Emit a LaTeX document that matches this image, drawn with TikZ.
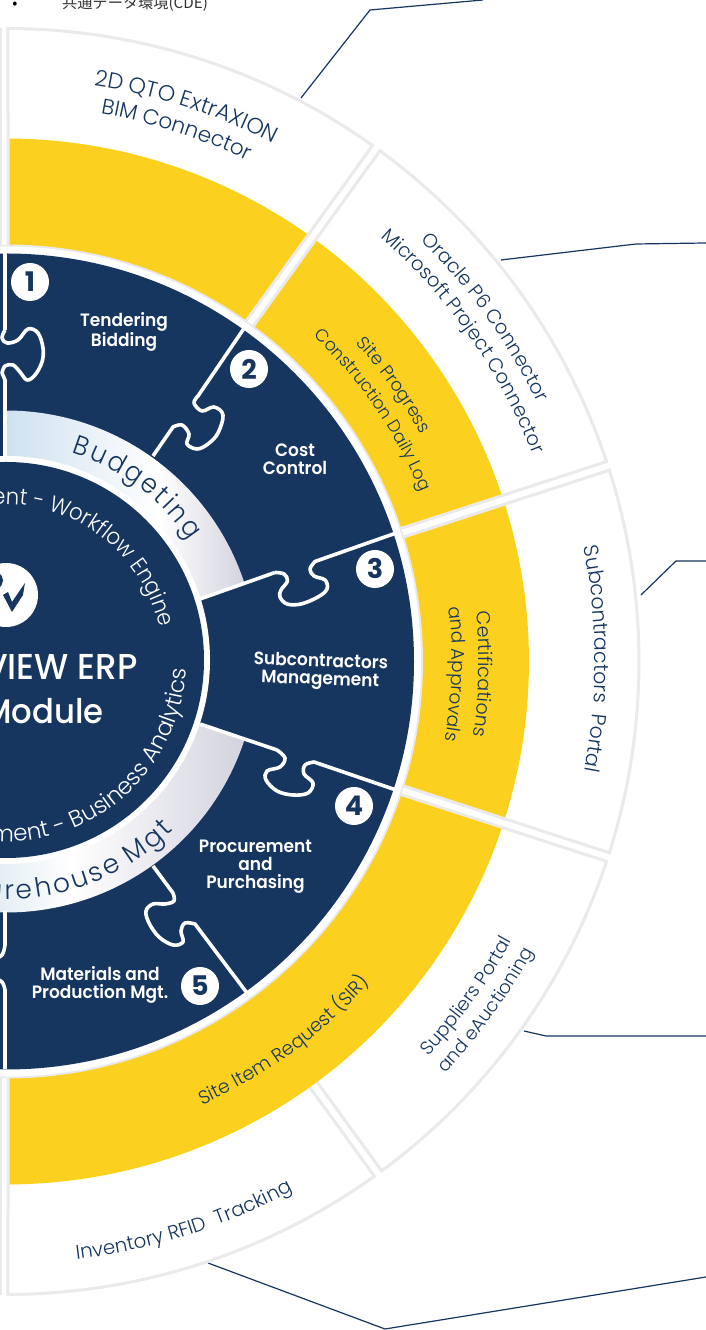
\documentclass[tikz,border=0pt]{standalone}
\usepackage{fontspec}
\setmainfont{Poppins}
\newfontfamily\lt{Poppins Light}
\newfontfamily\ltn{Poppins Light}[FakeStretch=0.93]
\newfontfamily\ltw{Poppins Light}[FakeStretch=0.93,LetterSpace=10]
\newfontfamily\ltx{Poppins Light}[LetterSpace=10]
\newfontfamily\md{Poppins Medium}[FakeStretch=0.95]
\newfontfamily\sbd{Poppins SemiBold}[FakeStretch=0.95]
\newfontfamily\bd{Poppins Bold}
\newfontfamily\cjk{Noto Sans CJK JP}
\definecolor{navy}{HTML}{163660}
\definecolor{gold}{HTML}{FCD01F}
\definecolor{rim}{HTML}{EAEAEC}
\definecolor{tintA}{HTML}{CFE1F0}
\definecolor{tintB}{HTML}{D3D3DF}
\definecolor{tintC}{HTML}{E0ECF1}
\pgfdeclarehorizontalshading{bandup}{100bp}{color(0bp)=(tintA); color(25bp)=(tintA); color(57bp)=(white); color(75bp)=(tintB); color(100bp)=(tintB)}
\pgfdeclarehorizontalshading{banddown}{100bp}{color(0bp)=(tintC); color(25bp)=(tintC); color(41bp)=(white); color(75bp)=(tintB); color(100bp)=(tintB)}
\tikzset{
  px/.style={y=-1pt,yshift=1330pt},
  pol/.style={shift={(6,668.5)}},
  outersector/.style={fill=white,draw=rim,line width=3pt,line join=miter},
  goldsector/.style={fill=gold},
  seam/.style={draw=white,line width=3.6pt,line cap=butt,line join=round},
  leader/.style={draw=navy,line width=1.2pt},
  numdot/.style={circle,fill=white,minimum size=38pt,inner sep=0pt,text=navy,font=\bd\fontsize{27}{27}\selectfont},
  lab/.style={text=white,align=center,font=\sbd\fontsize{17.9}{18}\selectfont,inner sep=0pt},
}
\newcommand\sect[7]{\path[#1] (#4:#2) arc[start angle=#4,end angle=#5,radius=#2] -- (#7:#3) arc[start angle=#7,end angle=#6,radius=#3] -- cycle;}
\newcommand\navyf[1]{\lt\fontsize{#1}{#1}\selectfont\color{navy}}
\newcommand\navyw[1]{\ltw\fontsize{#1}{#1}\selectfont\color{navy}}
\newcommand\navyx[1]{\ltx\fontsize{#1}{#1}\selectfont\color{navy}}
\newcommand\whitef[1]{\lt\fontsize{#1}{#1}\selectfont\color{white}}
\newcommand\whiten[1]{\ltn\fontsize{#1}{#1}\selectfont\color{white}}
\newlength\acW \newlength\acP \newlength\acC
\makeatletter
% radius, angle, direction (+1 clockwise, -1 anticlockwise), align (0 centre, 1 end), font, text
\newcommand\arcline[6]{%
  \pgfinterruptpicture\sbox0{#5#6}\global\acW=\wd0 \endpgfinterruptpicture
  \ifnum#4=0 \pgfmathsetmacro\acS{-0.5*\acW}\else \pgfmathsetmacro\acS{-1*\acW}\fi
  \gdef\acPre{}%
  \@tfor\acCh:=#6\do{%
    \expandafter\g@addto@macro\expandafter\acPre\expandafter{\acCh}%
    \pgfinterruptpicture
      \sbox0{#5\acPre}\global\acP=\wd0
      \sbox0{#5\acCh}\global\acC=\wd0
    \endpgfinterruptpicture
    \pgfmathsetmacro\acTh{#2-#3*(\acS+\acP-0.5*\acC)/#1*57.29578}%
    \pgfmathsetmacro\acRo{\acTh-#3*90}%
    \node[anchor=base,inner sep=0pt,rotate=\acRo] at (\acTh:#1) {#5\acCh};%
  }%
}
\makeatother
\begin{document}
\begin{tikzpicture}[x=1pt,y=1pt]
\useasboundingbox (0,0) rectangle (706,1330);
\clip (0,0) rectangle (706,1330);
\fill[white] (0,0) rectangle (706,1330);
% stray caption at the top
\begin{scope}[px]
\node[anchor=base,inner sep=0pt] (bul) at (15,8.5) {\cjk\fontsize{15}{15}\selectfont •};
\node[anchor=base west,inner sep=0pt,text=black!80] (cde) at (62,8.5) {\cjk\fontsize{15.2}{15}\selectfont 共通データ環境(CDE)};
\draw[rim,line width=2pt] (0.5,28) -- (0.5,245);
\draw[rim,line width=2pt] (0.5,1077) -- (0.5,1295);
\end{scope}
% leader lines
\begin{scope}[px]
\coordinate (l1a) at (301,98); \coordinate (l1b) at (370,10); \coordinate (l1c) at (483,0);
\coordinate (l2a) at (501,260); \coordinate (l2b) at (636,244); \coordinate (l2c) at (706,243);
\coordinate (l3a) at (641,595); \coordinate (l3b) at (676,561); \coordinate (l3c) at (706,561);
\coordinate (l4a) at (524,1031); \coordinate (l4b) at (546,1036); \coordinate (l4c) at (706,1036);
\coordinate (l5a) at (208,1263); \coordinate (l5b) at (385,1329); \coordinate (l5c) at (706,1277);
\draw[leader] (l1a)--(l1b)--(l1c);
\draw[leader] (l2a)--(l2b)--(l2c);
\draw[leader] (l3a)--(l3b)--(l3c);
\draw[leader] (l4a)--(l4b)--(l4c);
\draw[leader] (l5a)--(l5b)--(l5c);
\end{scope}
\begin{scope}[pol]
% outer white sectors
\sect{outersector}{633}{416}{89.82}{54.61}{89.72}{54.82}
\sect{outersector}{633}{416}{53.79}{18.41}{53.58}{18.62}
\sect{outersector}{633}{416}{17.59}{-17.59}{17.38}{-17.38}
\sect{outersector}{633}{416}{-18.41}{-53.59}{-18.62}{-53.38}
\sect{outersector}{633}{416}{-54.41}{-89.82}{-54.62}{-89.72}
% gold ring
\sect{goldsector}{523}{416}{89.6}{54.86}{89.5}{55.03}
\sect{goldsector}{523}{416}{53.54}{18.66}{53.37}{18.83}
\sect{goldsector}{523}{416}{17.34}{-17.34}{17.17}{-17.17}
\sect{goldsector}{523}{416}{-18.66}{-89.6}{-18.83}{-89.5}
% navy disc
\fill[rim] (0,0) circle[radius=417];
\fill[white] (0,0) circle[radius=415];
\fill[navy] (0,0) circle[radius=408];
% gradient bands
\path[shading=bandup] (89.7:251) arc[start angle=89.7,end angle=18,radius=251] -- (18:198) arc[start angle=18,end angle=89.7,radius=198] -- cycle;
\path[shading=banddown] (-94:251) arc[start angle=-94,end angle=-18,radius=251] -- (-18:198) arc[start angle=-18,end angle=-94,radius=198] -- cycle;
% hub
\fill[white] (0,1.5) circle[radius=204];
\fill[navy] (0,1.5) circle[radius=198];
\end{scope}
% jigsaw seams
\begin{scope}[px]
\draw[seam] (5,253) -- (5,330) plot[smooth,tension=0.6] coordinates {(5,330) (2,338) (7,343) (18,340) (28,329) (38,333) (43,348) (42,362) (35,375) (27,380) (20,372) (13,365) (5,366) (2,373)} -- (5,380) -- (5,456);
\draw[seam] (245,327) -- (198,396) plot[smooth,tension=0.6] coordinates {(198,396) (194,403) (202,411) (214,407) (223,415) (218,433) (208,444) (197,449) (187,444) (189,434) (182,425) (173,427)} -- (153,456);
\draw[seam] (200,599) -- (275,572.5) plot[smooth,tension=0.6] coordinates {(275,572.5) (284,574) (287.5,581) (281,590) (280,597) (287,604) (301,604) (318,597) (327,589) (325,580) (314,576) (310,569) (315,561.5)} -- (399,532);
\draw[seam] (200,724) -- (277,750) plot[smooth,tension=0.6] coordinates {(277,750) (285,758) (280,767) (267,771) (266,780) (277,791) (293,795) (308,793) (313,783) (304,774) (305,765) (314,762)} -- (396,790);
\draw[seam] (153,866) -- (173,893) plot[smooth,tension=0.6] coordinates {(173,893) (174,901) (165,904) (153,904) (146,911) (149,923) (159,937) (173,945) (183,942) (181,931) (185,923) (195,924)} -- (247,993);
\draw[seam] (5,911) -- (5,945) plot[smooth,tension=0.6] coordinates {(5,945) (2,955) (-8,962) (-8,975) (2,982) (5,990)} -- (5,1069);
\node[numdot] (n1) at (30,282) {1};
\node[numdot] (n2) at (249,369) {2};
\node[numdot] (n3) at (375,569) {3};
\node[numdot] (n4) at (354,806) {4};
\node[numdot] (n5) at (200,986) {5};
\node[lab] (t1) at (124,332) {Tendering\\Bidding};
\node[lab] (t2) at (295,459) {Cost\\Control};
\node[lab,rotate=-2] (t3) at (320.5,671.5) {Subcontractors\\Management};
\node[lab] (t4) at (255.5,867) {Procurement\\and\\Purchasing};
\node[lab] (t5) at (100,984.5) {Materials and\\Production Mgt.};
% logo
\node[circle,fill=white,minimum size=64pt,inner sep=0pt] (logo) at (6,595) {};
\fill[navy] (3,595) -- (8,592) -- (12,602) -- (25,583) -- (23,595) -- (12,612) -- cycle;
\draw[navy,line width=3.5pt] (-4,574) .. controls (3,576) and (3,584) .. (-4,588);
\node[anchor=base east,inner sep=0pt,text=white,font=\md\fontsize{36}{36}\selectfont] (title1) at (138,680) {VIEW ERP};
\node[anchor=base east,inner sep=0pt,text=white,font=\md\fontsize{34}{34}\selectfont] (title2) at (104,724) {Module};
\end{scope}
% curved texts
\begin{scope}[pol]
\arcline{583}{72}{1}{0}{\navyf{22.2}}{2D~QTO~ExtrAXION}
\arcline{556}{72.2}{1}{0}{\navyf{21.5}}{BIM~Connector}
\arcline{591}{35.7}{1}{0}{\navyf{19.5}}{Oracle~P6~Connector}
\arcline{566}{35}{1}{0}{\navyf{19.5}}{Microsoft~Project~Connector}
\arcline{473}{35.5}{1}{0}{\navyf{17.8}}{Site~Progress}
\arcline{448}{34.4}{1}{0}{\navyf{17.3}}{Construction~Daily~Log}
\arcline{473}{-1.5}{1}{0}{\navyf{19}}{Certifications}
\arcline{446}{-1.6}{1}{0}{\navyf{18.5}}{and~Approvals}
\arcline{589}{0.25}{1}{0}{\navyf{20.5}}{Subcontractors~~Portal}
\arcline{578}{-36}{-1}{0}{\navyf{18.8}}{Suppliers~Portal}
\arcline{602}{-36}{-1}{0}{\navyf{18.4}}{and~eAuctioning}
\arcline{485}{-53.8}{-1}{0}{\navyf{18.9}}{Site~Item~Request~(SIR)}
\arcline{602}{-72.4}{-1}{0}{\navyf{19.7}}{Inventory~RFID~~Tracking}
\arcline{219}{53}{1}{0}{\navyw{27}}{Budgeting}
\arcline{238}{-45.2}{-1}{1}{\navyx{26.5}}{Warehouse~Mgt}
\arcline{157}{12.5}{1}{1}{\whiten{22.7}}{ment~-~Workflow~Engine}
\arcline{180}{-2.3}{-1}{1}{\whitef{23}}{ment~-~Business~Analytics}
\end{scope}
\end{tikzpicture}
\end{document}
